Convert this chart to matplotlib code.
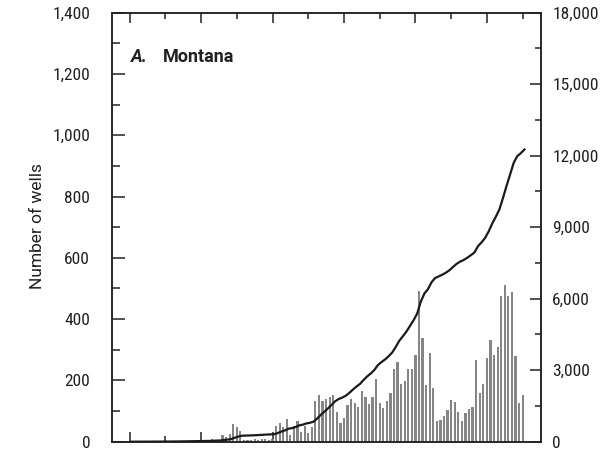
import numpy as np
import matplotlib
matplotlib.use("Agg")
import matplotlib.pyplot as plt
from matplotlib import font_manager
from matplotlib.ticker import MultipleLocator, FuncFormatter

# Annual number of wells drilled in Montana, by year
years = list(range(1900, 2011))
wells = [
    0, 1, 0, 1, 0, 1, 0, 1, 1, 1,            # 1900-1909
    1, 1, 2, 1, 2, 2, 3, 2, 3, 2,            # 1910-1919
    3, 3, 2, 10, 4, 6,                       # 1920-1925
    21, 15, 24, 57, 48, 34,                  # 1926-1931
    5, 4, 6, 8, 7, 10, 9, 6, 8,              # 1932-1940
    50, 62, 47, 73, 22, 50, 66, 32, 50, 28,  # 1941-1950
    47, 132, 151, 132, 138, 145,             # 1951-1956
    152, 97, 61, 78, 120, 139, 126, 114,     # 1957-1964
    166, 147, 123, 147, 205, 126,            # 1965-1970
    111, 133, 158, 237, 260, 188, 198, 237, 237, 283,  # 1971-1980
    493, 339, 185, 290, 176, 69, 71, 84, 103, 136,     # 1981-1990
    130, 97, 68, 93, 107, 113, 267, 159, 188, 273,     # 1991-2000
    332, 283, 309, 476, 512, 476, 489, 280, 126, 152,  # 2001-2010
]

left_ticks = [0, 200, 400, 600, 800, 1000, 1200, 1400]
right_ticks = [0, 3000, 6000, 9000, 12000, 15000, 18000]
panel_title_letter = "A."
panel_title_state = "Montana"
y_label = "Number of wells"


def pick_font(candidates):
    names = {f.name for f in font_manager.fontManager.ttflist}
    for c in candidates:
        if c in names:
            return c
    return "DejaVu Sans"


narrow = pick_font(["Liberation Sans Narrow", "Roboto Condensed", "Open Sans Condensed",
                    "Liberation Sans", "DejaVu Sans"])
regular = pick_font(["Roboto", "Liberation Sans", "DejaVu Sans"])
plt.rcParams["font.family"] = [narrow, "DejaVu Sans"]

text_col = "#231f20"
fig = plt.figure(figsize=(6.03, 4.54), dpi=100)
ax = fig.add_axes([111.7 / 603, 1 - 441.7 / 454, (540.5 - 111.7) / 603, (441.7 - 12.7) / 454])

bar_color = "#858585"
ax.bar(years, wells, width=0.62, color=bar_color, linewidth=0, zorder=2)

ax.set_xlim(1895, 2015)
ax.set_ylim(0, 1400)

ax2 = ax.twinx()
cumulative = np.cumsum(wells)
ax2.plot(np.array(years) + 0.5, cumulative, color="#1a1a1a", lw=1.6,
         solid_joinstyle="round", zorder=3)
ax2.set_ylim(0, 18000)

spine_col = "#222222"
for a in (ax, ax2):
    for s in a.spines.values():
        s.set_linewidth(1.1)
        s.set_color(spine_col)

# x ticks (top and bottom, no labels)
ax.xaxis.set_major_locator(MultipleLocator(20))
ax.xaxis.set_minor_locator(MultipleLocator(10))
ax.tick_params(axis="x", which="both", direction="in", top=True, bottom=True,
               labelbottom=False, labeltop=False, width=1.1, color=spine_col)
ax.tick_params(axis="x", which="major", length=7)
ax.tick_params(axis="x", which="minor", length=4.3)

# left y axis
ax.set_yticks(left_ticks)
ax.yaxis.set_minor_locator(MultipleLocator(100))
ax.yaxis.set_major_formatter(FuncFormatter(lambda v, p: f"{int(v):,}"))
ax.tick_params(axis="y", which="both", direction="in", left=True, right=False,
               width=1.1, color=spine_col, labelsize=12.5, pad=15.5, labelcolor=text_col)
ax.tick_params(axis="y", which="major", length=9.2)
ax.tick_params(axis="y", which="minor", length=5.8)

# right y axis
ax2.set_yticks(right_ticks)
ax2.yaxis.set_minor_locator(MultipleLocator(1500))
ax2.yaxis.set_major_formatter(FuncFormatter(lambda v, p: f"{int(v):,}"))
ax2.tick_params(axis="y", which="both", direction="in", right=True, left=False,
                width=1.1, color=spine_col, labelsize=12.5, pad=8.5, labelcolor=text_col)
ax2.tick_params(axis="y", which="major", length=8.2)
ax2.tick_params(axis="y", which="minor", length=4.5)

fig.text(37 / 603, 1 - 226 / 454, y_label, rotation=90, ha="center", va="center",
         fontsize=12.5, color=text_col, family=[regular, "DejaVu Sans"])

ax.text(131 / 603, 1 - 61.7 / 454, panel_title_letter, transform=fig.transFigure,
        fontsize=13, fontweight="bold", fontstyle="italic", color=text_col,
        ha="left", va="baseline", family=[regular, "DejaVu Sans"])
ax.text(163 / 603, 1 - 61.7 / 454, panel_title_state, transform=fig.transFigure,
        fontsize=13, fontweight="bold", color=text_col, ha="left", va="baseline",
        family=[regular, "DejaVu Sans"])

fig.savefig("out.png", dpi=100)
